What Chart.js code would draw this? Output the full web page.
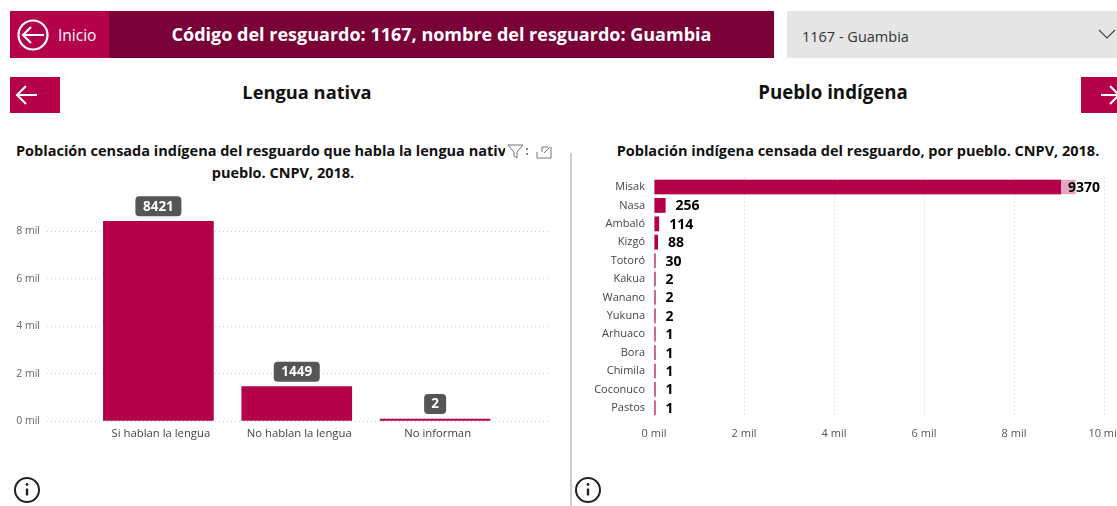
<!DOCTYPE html>
<html lang="es">
<head>
<meta charset="utf-8">
<script src="https://cdn.jsdelivr.net/npm/chart.js@4"></script>
<style>
html,body{margin:0;padding:0;background:#fff;width:1117px;height:506px;overflow:hidden;font-family:"Open Sans",sans-serif}
.a{position:absolute;white-space:nowrap}
canvas{position:absolute}
</style>
</head>
<body>
<div class="a" style="left:10px;top:11px;width:99px;height:47px;background:#B5004A"></div>
<div class="a" style="left:109px;top:11px;width:665px;height:47px;background:#7A0038"></div>
<svg class="a" style="left:16px;top:18px" width="34" height="34" viewBox="0 0 34 34" fill="none" stroke="#fff" stroke-width="2.2"><circle cx="17" cy="17" r="14.5"/><path d="M28 17H7M15 9l-8 8 8 8"/></svg>
<div class="a" style="left:58px;top:25px;color:#fff;font-size:15.5px;line-height:20px">Inicio</div>
<div class="a" style="left:109px;top:21px;width:665px;text-align:center;color:#fff;font-weight:700;font-size:18px;line-height:26px">Código del resguardo: 1167, nombre del resguardo: Guambia</div>
<div class="a" style="left:787px;top:11px;width:330px;height:47px;background:#E6E6E6"></div>
<div class="a" style="left:802px;top:27px;color:#333;font-size:14.5px;line-height:20px">1167 - Guambia</div>
<svg class="a" style="left:1098px;top:28px" width="19" height="12" fill="none" stroke="#444" stroke-width="1.2"><path d="M1 2l8 8 8-8"/></svg>
<div class="a" style="left:10px;top:77px;width:50px;height:36px;background:#B5004A"></div>
<svg class="a" style="left:14px;top:83px" width="28" height="24" fill="none" stroke="#fff" stroke-width="2"><path d="M23 12H4M12 3l-9 9 9 9"/></svg>
<div class="a" style="left:1081px;top:77px;width:36px;height:36px;background:#B5004A"></div>
<svg class="a" style="left:1101px;top:83px" width="16" height="24" fill="none" stroke="#fff" stroke-width="2"><path d="M0 12H20M9 3l9 9-9 9"/></svg>
<div class="a" style="left:107px;top:78px;width:400px;text-align:center;font-weight:700;font-size:18.3px;line-height:28px;color:#111">Lengua nativa</div>
<div class="a" style="left:633px;top:78px;width:400px;text-align:center;font-weight:700;font-size:18.7px;line-height:28px;color:#111">Pueblo indígena</div>
<div class="a" style="left:16px;top:141px;width:489px;overflow:hidden;font-weight:700;font-size:14.5px;line-height:20px;color:#111">Población censada indígena del resguardo que habla la lengua nativa, por</div>
<div class="a" style="left:83px;top:163px;width:400px;text-align:center;font-weight:700;font-size:14.5px;line-height:20px;color:#111">pueblo. CNPV, 2018.</div>
<div class="a" style="left:602px;top:141px;width:512px;text-align:center;font-weight:700;font-size:14.5px;line-height:20px;color:#111">Población indígena censada del resguardo, por pueblo. CNPV, 2018.</div>
<svg class="a" style="left:507px;top:144px" width="46" height="16" fill="none" stroke="#777" stroke-width="1"><path d="M1 1h15l-6 7v6l-3-2V8z"/><path d="M20 4v2M20 9v2" stroke="#555" stroke-width="1.4"/><path d="M35 8V3h6M44 3v11H30V8M37 9l6-6"/></svg>
<div class="a" style="left:570px;top:153px;width:1.5px;height:353px;background:#ccc"></div>
<svg class="a" style="left:13px;top:476px" width="28" height="28" fill="none" stroke="#222" stroke-width="2"><circle cx="14" cy="14" r="12"/><path d="M14 12.5v7" stroke-width="2.4"/><circle cx="14" cy="8.5" r="1.4" fill="#222" stroke="none"/></svg>
<svg class="a" style="left:574px;top:476px" width="28" height="28" fill="none" stroke="#222" stroke-width="2"><circle cx="14" cy="14" r="12"/><path d="M14 12.5v7" stroke-width="2.4"/><circle cx="14" cy="8.5" r="1.4" fill="#222" stroke="none"/></svg>

<canvas id="left" style="left:0;top:190px"></canvas>
<canvas id="right" style="left:575px;top:165px"></canvas>

<script>
const lenguaCategories = ["Si hablan la lengua", "No hablan la lengua", "No informan"];
const lenguaValues = [8421, 1449, 2];
const lenguaTicks = [0, 2000, 4000, 6000, 8000];
const puebloCategories = ["Misak","Nasa","Ambaló","Kizgó","Totoró","Kakua","Wanano","Yukuna","Arhuaco","Bora","Chimila","Coconuco","Pastos"];
const puebloTotals = [9370,256,114,88,30,2,2,2,1,1,1,1,1];
const puebloHighlighted = [9045,256,114,88,30,2,2,2,1,1,1,1,1];

const BAR = "#B5004A", LIGHT = "#E7A6C0", FONT = '"Open Sans", sans-serif';
const GRID = {color:"#cfcfcf", lineWidth:1, drawTicks:false};
const BORDER = {display:false, dash:[1,3]};
Chart.defaults.font.family = FONT;

const boxLabels = {
  id:"boxLabels",
  afterDatasetsDraw(chart){
    const ctx = chart.ctx;
    const els = chart.getDatasetMeta(0).data;
    ctx.save();
    ctx.font = 'bold 13.5px ' + FONT;
    ctx.textAlign = "center"; ctx.textBaseline = "middle";
    els.forEach((el,i)=>{
      const t = String(lenguaValues[i]);
      const w = t.length > 1 ? 46 : 22, h = 20;
      const bottom = Math.min(el.y, chart.scales.y.getPixelForValue(0) - 1.5) - 5;
      ctx.fillStyle = "#555";
      ctx.beginPath();
      ctx.roundRect(el.x - w/2, bottom - h, w, h, 4);
      ctx.fill();
      ctx.fillStyle = "#fff";
      ctx.fillText(t, el.x, bottom - h/2 + 0.5);
    });
    ctx.restore();
  }
};

const endLabels = {
  id:"endLabels",
  afterDatasetsDraw(chart){
    const ctx = chart.ctx;
    const els = chart.getDatasetMeta(1).data;
    const limit = chart.scales.x.getPixelForValue(9200);
    ctx.save();
    ctx.font = 'bold 14px ' + FONT;
    ctx.fillStyle = "#000";
    ctx.textAlign = "left"; ctx.textBaseline = "middle";
    els.forEach((el,i)=>{
      ctx.fillText(String(puebloTotals[i]), Math.min(el.x + 10, limit), el.y + 1);
    });
    ctx.restore();
  }
};

function size(id,w,h){const c=document.getElementById(id);c.width=w;c.height=h;c.style.width=w+"px";c.style.height=h+"px";return c;}

new Chart(size("left",560,270),{
  type:"bar",
  data:{datasets:[{
    data:lenguaValues.map((v,i)=>({x:i,y:v})),
    backgroundColor:BAR, barThickness:110, minBarLength:2
  }]},
  options:{
    responsive:false, animation:false, devicePixelRatio:1,
    layout:{padding:{top:17.5,right:11,left:0,bottom:0}},
    plugins:{legend:{display:false},tooltip:{enabled:false}},
    scales:{
      x:{type:"linear",offset:false,bounds:"data",min:-0.805,max:2.823,
        afterFit(s){s.height=39;},
        afterBuildTicks(s){s.ticks=lenguaCategories.map((c,i)=>({value:i}));},
        grid:{display:false,drawTicks:false},border:{display:false},
        ticks:{autoSkip:false,maxRotation:0,padding:6,labelOffset:2.5,color:"#444",font:{size:11.3},
          callback:v=>lenguaCategories[v]}},
      y:{min:0,max:9000,
        afterFit(s){s.width=47;},
        afterBuildTicks(s){s.ticks=lenguaTicks.map(v=>({value:v}));},
        grid:GRID,border:BORDER,
        ticks:{padding:7,color:"#666",font:{size:10.5},
          callback:v=>(v/1000)+" mil"}}
    }
  },
  plugins:[boxLabels]
});

new Chart(size("right",620,285),{
  type:"bar",
  data:{labels:puebloCategories,datasets:[
    {data:puebloHighlighted,backgroundColor:BAR,grouped:false,minBarLength:1.5,categoryPercentage:0.8,barPercentage:1},
    {data:puebloTotals,backgroundColor:LIGHT,grouped:false,minBarLength:1.5,categoryPercentage:0.8,barPercentage:1}
  ]},
  options:{
    indexAxis:"y",
    responsive:false, animation:false, devicePixelRatio:1,
    layout:{padding:{top:12.8,right:91,left:0,bottom:0}},
    plugins:{legend:{display:false},tooltip:{enabled:false}},
    scales:{
      x:{min:0,max:10000,
        afterFit(s){s.height=33;},
        grid:GRID,border:BORDER,
        ticks:{stepSize:2000,maxRotation:0,padding:10,color:"#555",font:{size:11},
          callback:v=>(v/1000)+" mil"}},
      y:{afterFit(s){s.width=79;s.paddingTop=0;s.paddingBottom=0;},
        grid:{display:false,drawTicks:false},border:{display:false},
        ticks:{autoSkip:false,padding:9,color:"#444",font:{size:11}}}
    }
  },
  plugins:[endLabels]
});
</script>
</body>
</html>
